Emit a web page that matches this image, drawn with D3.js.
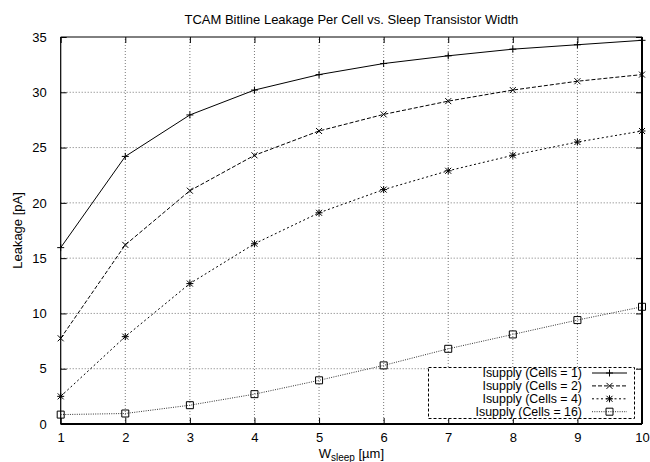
<!DOCTYPE html>
<html>
<head>
<meta charset="utf-8">
<script src="https://cdn.jsdelivr.net/npm/d3@7"></script>
<style>
    body { margin: 0; background: #fff; }
    text { font-family: "Liberation Sans", Arial, sans-serif; fill: #000; }
</style>
</head>
<body>
<div id="chart"></div>
<script>
// values
const widths = [1, 2, 3, 4, 5, 6, 7, 8, 9, 10];
const cells1 = [15.95, 24.2, 27.95, 30.2, 31.6, 32.6, 33.3, 33.9, 34.3, 34.7];
const cells2 = [7.75, 16.2, 21.1, 24.3, 26.5, 28.0, 29.2, 30.2, 31.0, 31.6];
const cells4 = [2.5, 7.9, 12.7, 16.3, 19.1, 21.2, 22.9, 24.3, 25.5, 26.5];
const cells16 = [0.85, 0.95, 1.7, 2.7, 3.95, 5.3, 6.8, 8.1, 9.4, 10.6];
const seriesNames = ["Isupply (Cells = 1)", "Isupply (Cells = 2)", "Isupply (Cells = 4)", "Isupply (Cells = 16)"];
const xTicks = [1, 2, 3, 4, 5, 6, 7, 8, 9, 10];
const yTicks = [0, 5, 10, 15, 20, 25, 30, 35];

const width = 650, height = 462;
const margin = {top: 37, right: 8, bottom: 38, left: 60.7};

let svg = d3.select("#chart").append("svg")
    .attr("width", width)
    .attr("height", height);

let x = d3.scaleLinear().domain([1, 10]).range([margin.left, width - margin.right]);
let y = d3.scaleLinear().domain([0, 35]).range([height - margin.bottom, margin.top]);

// line style + marker for each series
let styles = [
    {dash: null, marker: "plus", color: "#000"},
    {dash: "4,2", marker: "cross", color: "#000"},
    {dash: "2,2.5", marker: "star", color: "#000"},
    {dash: "1,1.3", marker: "square", color: "#333"}
];
let allSeries = [cells1, cells2, cells4, cells16];

// grid
svg.append("g").selectAll("line")
    .data(xTicks.filter(t => t > 1 && t < 10))
    .join("line")
    .attr("x1", d => x(d)).attr("x2", d => x(d))
    .attr("y1", y(0)).attr("y2", y(35))
    .attr("stroke", "#555").attr("stroke-width", 0.8)
    .attr("stroke-dasharray", "1,2");

svg.append("g").selectAll("line")
    .data(yTicks.filter(t => t > 0 && t < 35))
    .join("line")
    .attr("x1", x(1)).attr("x2", x(10))
    .attr("y1", d => y(d)).attr("y2", d => y(d))
    .attr("stroke", "#555").attr("stroke-width", 0.8)
    .attr("stroke-dasharray", "1,2");

// axes: inward ticks, mirrored on top and right
svg.append("g")
    .attr("transform", `translate(0, ${y(0)})`)
    .call(d3.axisBottom(x).tickValues(xTicks).tickSize(-6).tickPadding(9))
    .call(g => g.select(".domain").remove());
svg.append("g")
    .attr("transform", `translate(0, ${y(35)})`)
    .call(d3.axisTop(x).tickValues(xTicks).tickSize(-6).tickFormat(""))
    .call(g => g.select(".domain").remove());
svg.append("g")
    .attr("transform", `translate(${x(1)}, 0)`)
    .call(d3.axisLeft(y).tickValues(yTicks).tickSize(-6).tickPadding(14))
    .call(g => g.select(".domain").remove());
svg.append("g")
    .attr("transform", `translate(${x(10)}, 0)`)
    .call(d3.axisRight(y).tickValues(yTicks).tickSize(-6).tickFormat(""))
    .call(g => g.select(".domain").remove());

svg.selectAll(".tick text")
    .attr("font-size", "13px")
    .attr("font-family", "Liberation Sans, Arial, sans-serif");
svg.selectAll(".tick line").attr("stroke", "#000");

// border
svg.append("line").attr("x1", x(1)).attr("x2", x(10)).attr("y1", y(35)).attr("y2", y(35))
    .attr("stroke", "#000").attr("stroke-width", 1);
svg.append("line").attr("x1", x(1)).attr("x2", x(1)).attr("y1", y(0)).attr("y2", y(35))
    .attr("stroke", "#000").attr("stroke-width", 1.2);
svg.append("line").attr("x1", x(1)).attr("x2", x(10)).attr("y1", y(0)).attr("y2", y(0))
    .attr("stroke", "#000").attr("stroke-width", 2);
svg.append("line").attr("x1", x(10)).attr("x2", x(10)).attr("y1", y(0)).attr("y2", y(35))
    .attr("stroke", "#000").attr("stroke-width", 2);

function markerPath(type) {
    if (type == "plus") return "M-3.5,0H3.5M0,-3.5V3.5";
    if (type == "cross") return "M-3,-3L3,3M-3,3L3,-3";
    if (type == "star") return "M-3.5,0H3.5M0,-3.5V3.5M-3,-3L3,3M-3,3L3,-3";
    return "M-3.5,-3.5H3.5V3.5H-3.5Z";
}

let line = d3.line()
    .x((d, i) => x(widths[i]))
    .y(d => y(d));

allSeries.forEach((s, k) => {
    let st = styles[k];
    svg.append("path")
        .datum(s)
        .attr("d", line)
        .attr("fill", "none")
        .attr("stroke", st.color)
        .attr("stroke-width", 1)
        .attr("stroke-dasharray", st.dash);

    svg.append("g").selectAll("path")
        .data(s)
        .join("path")
        .attr("transform", (d, i) => `translate(${x(widths[i])}, ${y(d)})`)
        .attr("d", markerPath(st.marker))
        .attr("fill", "none")
        .attr("stroke", "#000")
        .attr("stroke-width", 1);
});

// legend
let legend = svg.append("g");
legend.append("rect")
    .attr("x", 428.5).attr("y", 367.5)
    .attr("width", 206).attr("height", 51)
    .attr("fill", "#fff")
    .attr("stroke", "#000").attr("stroke-width", 1)
    .attr("stroke-dasharray", "3,2");

seriesNames.forEach((name, k) => {
    let st = styles[k];
    let cy = 373 + k * 12.9;
    legend.append("text")
        .attr("x", 582).attr("y", cy + 4.3)
        .attr("text-anchor", "end")
        .attr("font-size", "12.4px")
        .text(name);
    legend.append("line")
        .attr("x1", 592).attr("x2", 627)
        .attr("y1", cy).attr("y2", cy)
        .attr("stroke", st.color).attr("stroke-width", 1)
        .attr("stroke-dasharray", st.dash);
    legend.append("path")
        .attr("transform", `translate(609.5, ${cy})`)
        .attr("d", markerPath(st.marker))
        .attr("fill", "none")
        .attr("stroke", "#000");
});

// title and axis labels
svg.append("text")
    .attr("x", (x(1) + x(10)) / 2).attr("y", 24)
    .attr("text-anchor", "middle")
    .attr("font-size", "13px")
    .text("TCAM Bitline Leakage Per Cell vs. Sleep Transistor Width");

svg.append("text")
    .attr("transform", `translate(22, ${(y(0) + y(35)) / 2}) rotate(-90)`)
    .attr("text-anchor", "middle")
    .attr("font-size", "13px")
    .text("Leakage [pA]");

let xl = svg.append("text")
    .attr("x", (x(1) + x(10)) / 2).attr("y", 458)
    .attr("text-anchor", "middle")
    .attr("font-size", "13px");
xl.append("tspan").text("W");
xl.append("tspan").attr("font-size", "10px").attr("dy", 3).text("sleep");
xl.append("tspan").attr("dy", -3).text(" [µm]");
</script>
</body>
</html>
